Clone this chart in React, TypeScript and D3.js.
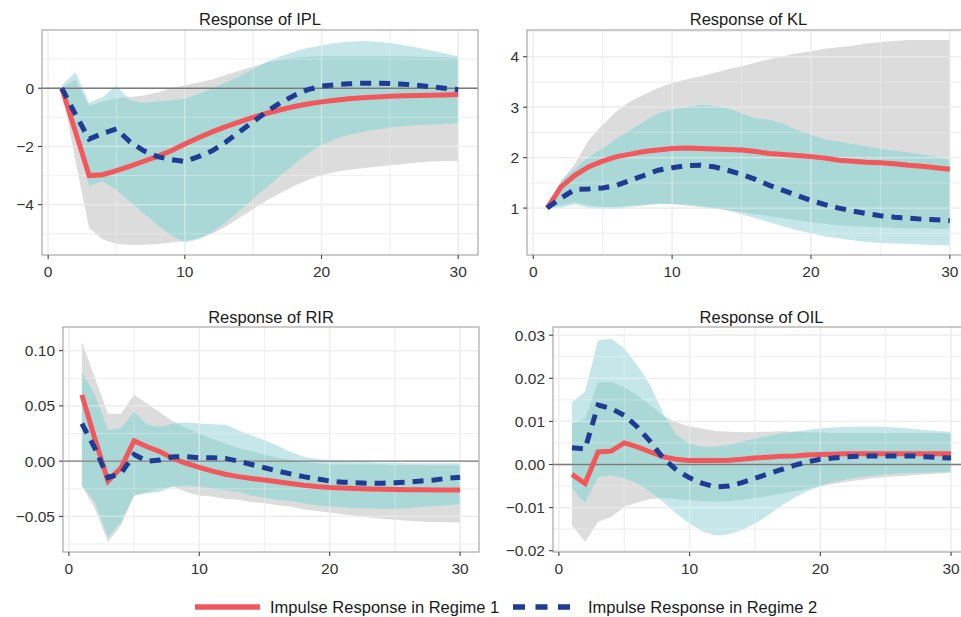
import { useEffect, useRef } from "react";
import * as d3 from "d3";

// horizons 1..30
const horizons = [1, 2, 3, 4, 5, 6, 7, 8, 9, 10, 11, 12, 13, 14, 15, 16, 17, 18, 19, 20, 21, 22, 23, 24, 25, 26, 27, 28, 29, 30];
const xTicks = [0, 10, 20, 30];

// IPL
const iplR1 = [0, -1.5, -3.0, -2.97, -2.83, -2.68, -2.51, -2.34, -2.15, -1.92, -1.7, -1.5, -1.32, -1.16, -1.0, -0.86, -0.74, -0.63, -0.54, -0.47, -0.41, -0.36, -0.33, -0.3, -0.28, -0.26, -0.25, -0.24, -0.23, -0.22];
const iplR2 = [0, -0.9, -1.75, -1.55, -1.4, -1.85, -2.15, -2.35, -2.45, -2.52, -2.35, -2.15, -1.85, -1.5, -1.15, -0.8, -0.5, -0.25, -0.05, 0.07, 0.12, 0.15, 0.17, 0.17, 0.16, 0.14, 0.1, 0.05, 0.0, -0.05];
const iplR1Lo = [0, -2.5, -4.8, -5.2, -5.35, -5.38, -5.38, -5.35, -5.3, -5.25, -5.15, -5.0, -4.75, -4.45, -4.15, -3.85, -3.6, -3.35, -3.15, -2.98, -2.88, -2.8, -2.75, -2.7, -2.65, -2.6, -2.55, -2.52, -2.5, -2.5];
const iplR1Hi = [0, 0.3, -0.6, -0.45, -0.35, -0.3, -0.25, -0.15, 0.0, 0.1, 0.2, 0.3, 0.45, 0.6, 0.75, 0.88, 0.98, 1.05, 1.08, 1.1, 1.1, 1.1, 1.1, 1.1, 1.1, 1.1, 1.08, 1.07, 1.06, 1.05];
const iplR2Lo = [-0.1, -1.6, -3.35, -3.2, -3.5, -3.9, -4.3, -4.7, -5.05, -5.3, -5.2, -4.95, -4.6, -4.2, -3.8, -3.4, -3.0, -2.6, -2.25, -1.95, -1.75, -1.6, -1.5, -1.42, -1.36, -1.3, -1.27, -1.25, -1.22, -1.2];
const iplR2Hi = [0.1, 0.55, -0.5, -0.3, 0.1, -0.42, -0.5, -0.45, -0.42, -0.35, -0.2, 0.0, 0.2, 0.4, 0.65, 0.9, 1.1, 1.25, 1.38, 1.48, 1.55, 1.6, 1.62, 1.6, 1.55, 1.48, 1.4, 1.3, 1.2, 1.1];
const iplTicks = [-4, -2, 0];

// KL
const klR1 = [1.0, 1.42, 1.65, 1.82, 1.93, 2.02, 2.07, 2.12, 2.15, 2.18, 2.19, 2.18, 2.17, 2.16, 2.15, 2.12, 2.08, 2.06, 2.04, 2.02, 1.99, 1.95, 1.93, 1.91, 1.9, 1.88, 1.85, 1.83, 1.8, 1.77];
const klR2 = [1.0, 1.2, 1.37, 1.38, 1.4, 1.45, 1.55, 1.65, 1.75, 1.8, 1.84, 1.85, 1.82, 1.75, 1.67, 1.57, 1.45, 1.35, 1.25, 1.15, 1.07, 1.0, 0.94, 0.89, 0.85, 0.82, 0.8, 0.78, 0.77, 0.75];
const klR1Lo = [1.0, 1.05, 1.12, 1.05, 1.02, 1.02, 1.05, 1.07, 1.09, 1.08, 1.05, 1.02, 0.99, 0.96, 0.92, 0.88, 0.84, 0.8, 0.76, 0.72, 0.69, 0.66, 0.64, 0.63, 0.62, 0.61, 0.6, 0.6, 0.59, 0.59];
const klR1Hi = [1.0, 1.52, 1.88, 2.35, 2.65, 2.92, 3.12, 3.25, 3.38, 3.48, 3.55, 3.61, 3.68, 3.75, 3.81, 3.88, 3.95, 4.01, 4.07, 4.11, 4.16, 4.19, 4.22, 4.26, 4.29, 4.31, 4.33, 4.33, 4.33, 4.33];
const klR2Lo = [1.0, 1.0, 1.08, 1.0, 0.98, 0.98, 1.02, 1.05, 1.08, 1.08, 1.07, 1.04, 1.0, 0.95, 0.88, 0.8, 0.72, 0.64, 0.56, 0.5, 0.44, 0.4, 0.36, 0.33, 0.31, 0.3, 0.29, 0.28, 0.27, 0.26];
const klR2Hi = [1.0, 1.55, 1.78, 2.02, 2.18, 2.38, 2.55, 2.72, 2.88, 2.95, 3.0, 3.05, 3.03, 2.98, 2.88, 2.78, 2.75, 2.67, 2.55, 2.45, 2.36, 2.32, 2.27, 2.22, 2.17, 2.14, 2.1, 2.06, 2.02, 1.96];
const klTicks = [1, 2, 3, 4];

// RIR
const rirR1 = [0.06, 0.02, -0.018, -0.006, 0.0184, 0.013, 0.0085, 0.0024, -0.002, -0.0057, -0.009, -0.0118, -0.014, -0.0157, -0.017, -0.0187, -0.0202, -0.0218, -0.023, -0.0239, -0.0242, -0.0248, -0.0252, -0.0255, -0.0257, -0.0258, -0.0259, -0.026, -0.026, -0.026];
const rirR2 = [0.034, 0.0115, -0.015, -0.011, 0.006, 0.0, 0.001, 0.004, 0.004, 0.003, 0.003, 0.0025, 0.0, -0.003, -0.006, -0.009, -0.0115, -0.014, -0.016, -0.018, -0.019, -0.0195, -0.02, -0.02, -0.0195, -0.019, -0.018, -0.017, -0.0155, -0.0145];
const rirR1Lo = [-0.022, -0.043, -0.073, -0.058, -0.031, -0.028, -0.025, -0.023, -0.028, -0.031, -0.032, -0.034, -0.035, -0.037, -0.038, -0.04, -0.041, -0.0435, -0.045, -0.0465, -0.048, -0.0495, -0.051, -0.052, -0.053, -0.054, -0.0545, -0.055, -0.0553, -0.0556];
const rirR1Hi = [0.108, 0.075, 0.043, 0.043, 0.06, 0.052, 0.044, 0.036, 0.03, 0.025, 0.02, 0.016, 0.012, 0.009, 0.006, 0.003, 0.001, -0.001, -0.002, -0.003, -0.003, -0.003, -0.003, -0.003, -0.0035, -0.0035, -0.0035, -0.004, -0.004, -0.004];
const rirR2Lo = [-0.022, -0.037, -0.0686, -0.055, -0.031, -0.029, -0.028, -0.023, -0.022, -0.023, -0.025, -0.026, -0.028, -0.031, -0.033, -0.035, -0.036, -0.038, -0.04, -0.041, -0.0417, -0.0423, -0.0426, -0.043, -0.043, -0.0423, -0.0414, -0.0405, -0.04, -0.039];
const rirR2Hi = [0.081, 0.06, 0.028, 0.03, 0.045, 0.033, 0.031, 0.034, 0.035, 0.034, 0.0335, 0.033, 0.028, 0.0235, 0.019, 0.014, 0.0085, 0.004, 0.002, 0.001, 0.0, -0.001, -0.001, -0.0015, -0.0015, -0.002, -0.002, -0.002, -0.002, -0.002];
const rirTicks = [-0.05, 0.0, 0.05, 0.1];

// OIL
const oilR1 = [-0.0023, -0.0044, 0.0029, 0.0031, 0.005, 0.0041, 0.0029, 0.0018, 0.0012, 0.0009, 0.0009, 0.0009, 0.001, 0.0012, 0.0015, 0.0017, 0.0019, 0.002, 0.0022, 0.0023, 0.0024, 0.0025, 0.0025, 0.0025, 0.0025, 0.0025, 0.0025, 0.0025, 0.0025, 0.0025];
const oilR2 = [0.0039, 0.0036, 0.0138, 0.013, 0.0114, 0.0087, 0.0053, 0.0014, -0.0013, -0.0031, -0.0044, -0.0052, -0.005, -0.0042, -0.0032, -0.0022, -0.0012, -0.0002, 0.0006, 0.0012, 0.0015, 0.0018, 0.0019, 0.002, 0.002, 0.002, 0.002, 0.0018, 0.0016, 0.0015];
const oilR1Lo = [-0.0141, -0.0179, -0.0133, -0.0122, -0.0098, -0.0088, -0.008, -0.0078, -0.008, -0.0083, -0.0085, -0.0086, -0.0085, -0.0082, -0.0078, -0.0073, -0.0068, -0.0062, -0.0056, -0.005, -0.0045, -0.004, -0.0036, -0.0032, -0.0029, -0.0027, -0.0025, -0.0023, -0.0021, -0.002];
const oilR1Hi = [0.0095, 0.0107, 0.019, 0.0192, 0.018, 0.016, 0.0138, 0.0112, 0.0098, 0.0088, 0.0083, 0.0078, 0.0076, 0.0075, 0.0075, 0.0076, 0.0077, 0.0076, 0.0075, 0.0074, 0.0073, 0.0073, 0.0073, 0.0073, 0.0073, 0.0073, 0.0073, 0.0073, 0.0073, 0.0072];
const oilR2Lo = [-0.0056, -0.009, -0.0029, -0.0025, -0.0032, -0.0044, -0.0063, -0.0087, -0.0114, -0.0137, -0.0156, -0.0165, -0.0162, -0.0152, -0.0137, -0.0118, -0.0096, -0.0077, -0.0062, -0.005, -0.004, -0.0034, -0.0029, -0.0026, -0.0023, -0.0021, -0.002, -0.0019, -0.0018, -0.0017];
const oilR2Hi = [0.0145, 0.0169, 0.0288, 0.0292, 0.0269, 0.023, 0.0184, 0.0118, 0.0068, 0.0049, 0.0041, 0.0041, 0.0045, 0.0053, 0.006, 0.0066, 0.0072, 0.0076, 0.008, 0.0084, 0.0086, 0.0087, 0.0088, 0.0088, 0.0087, 0.0085, 0.0083, 0.008, 0.0078, 0.0076];
const oilTicks = [-0.02, -0.01, 0.0, 0.01, 0.02, 0.03];

const legendLabels = ["Impulse Response in Regime 1", "Impulse Response in Regime 2"];

const W = 961;
const H = 617;
const FONT = "'Liberation Sans', Arial, Helvetica, sans-serif";
const RED = "#f2585b";
const BLUE = "#1f3b94";
const GRAY_BAND = "#dcdcdc";
const CYAN_BAND = "#c6e7ea";
const OVERLAP = "#a9d8d6";

const panels = [
  { title: "Response of IPL", r1: iplR1, r2: iplR2, r1Lo: iplR1Lo, r1Hi: iplR1Hi, r2Lo: iplR2Lo, r2Hi: iplR2Hi, ticks: iplTicks, fmt: d3.format("d"), yDomain: [-5.73, 2.0], left: 42, right: 478, top: 30, bottom: 255, titleY: 25 },
  { title: "Response of KL", r1: klR1, r2: klR2, r1Lo: klR1Lo, r1Hi: klR1Hi, r2Lo: klR2Lo, r2Hi: klR2Hi, ticks: klTicks, fmt: d3.format("d"), yDomain: [0.07, 4.53], left: 527, right: 970, top: 30, bottom: 255, titleY: 25 },
  { title: "Response of RIR", r1: rirR1, r2: rirR2, r1Lo: rirR1Lo, r1Hi: rirR1Hi, r2Lo: rirR2Lo, r2Hi: rirR2Hi, ticks: rirTicks, fmt: d3.format(".2f"), yDomain: [-0.0822, 0.1214], left: 63, right: 479, top: 327, bottom: 552, titleY: 323 },
  { title: "Response of OIL", r1: oilR1, r2: oilR2, r1Lo: oilR1Lo, r1Hi: oilR1Hi, r2Lo: oilR2Lo, r2Hi: oilR2Hi, ticks: oilTicks, fmt: d3.format(".2f"), yDomain: [-0.0203, 0.0319], left: 553, right: 970, top: 327, bottom: 552, titleY: 323 },
];

export default function App() {
  const svgRef = useRef<SVGSVGElement>(null);

  useEffect(() => {
    const svg = d3.select(svgRef.current);
    svg.selectAll("*").remove();
    svg.append("rect").attr("width", W).attr("height", H).attr("fill", "#ffffff");
    const defs = svg.append("defs");

    panels.forEach((p, i) => {
      // ggplot-like 5% expansion around horizons 1..30
      const span = d3.max(horizons)! - d3.min(horizons)!;
      const x = d3.scaleLinear()
        .domain([d3.min(horizons)! - span * 0.05, d3.max(horizons)! + span * 0.05])
        .range([p.left, p.right]);
      const y = d3.scaleLinear().domain(p.yDomain).range([p.bottom, p.top]);

      const clipId = `plot-clip-${i}`;
      defs.append("clipPath").attr("id", clipId)
        .append("rect")
        .attr("x", p.left).attr("y", p.top)
        .attr("width", p.right - p.left).attr("height", p.bottom - p.top);

      const band = (lo: number[], hi: number[]) => d3.area<number>()
        .x(d => x(d))
        .y0((_, j) => y(lo[j]))
        .y1((_, j) => y(hi[j]))(horizons);

      const grayPath = band(p.r1Lo, p.r1Hi)!;
      const cyanPath = band(p.r2Lo, p.r2Hi)!;

      const overlapId = `overlap-clip-${i}`;
      defs.append("clipPath").attr("id", overlapId).append("path").attr("d", grayPath);

      const g = svg.append("g").attr("clip-path", `url(#${clipId})`);
      g.append("rect")
        .attr("x", p.left).attr("y", p.top)
        .attr("width", p.right - p.left).attr("height", p.bottom - p.top)
        .attr("fill", "#ffffff");

      // grid under the bands (faint on white)
      const [d0, d1] = p.yDomain;
      const step = p.ticks[1] - p.ticks[0];
      const minorY = [...p.ticks.map(t => t - step / 2), p.ticks[p.ticks.length - 1] + step / 2, p.ticks[p.ticks.length - 1] + step * 1.5]
        .filter(v => v > d0 && v < d1);
      const minorX = xTicks.slice(1).map(t => t - 5);

      const drawGrid = (color: string, op: number) => {
        const grid = g.append("g").attr("stroke", color).attr("stroke-opacity", op);
        minorY.forEach(v => grid.append("line").attr("x1", p.left).attr("x2", p.right).attr("y1", y(v)).attr("y2", y(v)).attr("stroke-width", 0.7));
        minorX.forEach(v => grid.append("line").attr("y1", p.top).attr("y2", p.bottom).attr("x1", x(v)).attr("x2", x(v)).attr("stroke-width", 0.7));
        p.ticks.forEach(v => grid.append("line").attr("x1", p.left).attr("x2", p.right).attr("y1", y(v)).attr("y2", y(v)).attr("stroke-width", 1.3));
        xTicks.forEach(v => grid.append("line").attr("y1", p.top).attr("y2", p.bottom).attr("x1", x(v)).attr("x2", x(v)).attr("stroke-width", 1.3));
      };
      drawGrid("#e6e6e6", 1);

      g.append("path").attr("d", grayPath).attr("fill", GRAY_BAND);
      g.append("path").attr("d", cyanPath).attr("fill", CYAN_BAND);
      g.append("path").attr("d", cyanPath).attr("fill", OVERLAP).attr("clip-path", `url(#${overlapId})`);

      // lighter grid lines showing over the bands
      drawGrid("#f4f4f4", 0.55);

      // zero reference line
      g.append("line")
        .attr("x1", p.left).attr("x2", p.right)
        .attr("y1", y(0)).attr("y2", y(0))
        .attr("stroke", "#7a7a7a").attr("stroke-width", 1.4);

      const line = (vals: number[]) => d3.line<number>()
        .x(d => x(d))
        .y((_, j) => y(vals[j]))(horizons);

      g.append("path").attr("d", line(p.r1)!)
        .attr("fill", "none").attr("stroke", RED).attr("stroke-width", 5)
        .attr("stroke-linejoin", "miter");
      g.append("path").attr("d", line(p.r2)!)
        .attr("fill", "none").attr("stroke", BLUE).attr("stroke-width", 5)
        .attr("stroke-dasharray", "11 8");

      // panel border
      svg.append("rect")
        .attr("x", p.left).attr("y", p.top)
        .attr("width", p.right - p.left).attr("height", p.bottom - p.top)
        .attr("fill", "none").attr("stroke", "#a8a8a8").attr("stroke-width", 1.2);

      // y axis ticks + labels
      const yAxis = svg.append("g").attr("font-family", FONT).attr("font-size", 15.5).attr("fill", "#333333");
      p.ticks.forEach(t => {
        yAxis.append("line")
          .attr("x1", p.left - 4).attr("x2", p.left)
          .attr("y1", y(t)).attr("y2", y(t))
          .attr("stroke", "#444").attr("stroke-width", 1.1);
        yAxis.append("text")
          .attr("x", p.left - 8).attr("y", y(t)).attr("dy", "0.36em")
          .attr("text-anchor", "end")
          .text(p.fmt(t));
      });

      // x axis ticks + labels
      const xAxis = svg.append("g").attr("font-family", FONT).attr("font-size", 15.5).attr("fill", "#333333");
      xTicks.forEach(t => {
        xAxis.append("line")
          .attr("x1", x(t)).attr("x2", x(t))
          .attr("y1", p.bottom).attr("y2", p.bottom + 4)
          .attr("stroke", "#444").attr("stroke-width", 1.1);
        xAxis.append("text")
          .attr("x", x(t)).attr("y", p.bottom + 21.5)
          .attr("text-anchor", "middle")
          .text(String(t));
      });

      svg.append("text")
        .attr("x", (p.left + p.right) / 2).attr("y", p.titleY)
        .attr("text-anchor", "middle")
        .attr("font-family", FONT).attr("font-size", 16.5).attr("fill", "#1a1a1a")
        .text(p.title);
    });

    // legend
    const lg = svg.append("g").attr("font-family", FONT).attr("font-size", 16.5).attr("fill", "#1a1a1a");
    lg.append("line").attr("x1", 195).attr("x2", 260).attr("y1", 607).attr("y2", 607)
      .attr("stroke", RED).attr("stroke-width", 5.5);
    lg.append("text").attr("x", 270).attr("y", 612.5).text(legendLabels[0]);
    lg.append("line").attr("x1", 513).attr("x2", 571).attr("y1", 607).attr("y2", 607)
      .attr("stroke", BLUE).attr("stroke-width", 5.5).attr("stroke-dasharray", "12 10.5");
    lg.append("text").attr("x", 588).attr("y", 612.5).text(legendLabels[1]);
  }, []);

  return (
    <div style={{ position: "absolute", left: 0, top: 0 }}>
      <svg ref={svgRef} width={W} height={H} style={{ display: "block" }} />
    </div>
  );
}
